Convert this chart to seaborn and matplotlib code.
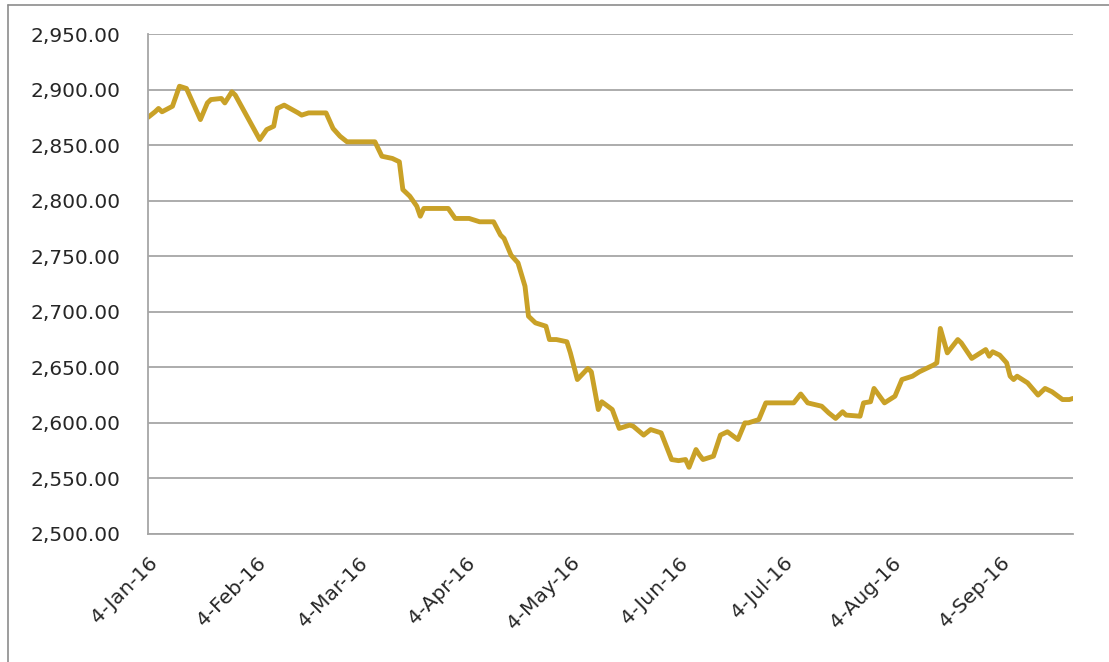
import matplotlib
matplotlib.use("Agg")
import matplotlib.pyplot as plt
import matplotlib.ticker as mticker
from matplotlib.lines import Line2D
import pandas as pd
import seaborn as sns

dates = [
    "2016-01-04", "2016-01-06", "2016-01-07", "2016-01-08", "2016-01-11",
    "2016-01-13", "2016-01-15", "2016-01-19", "2016-01-21", "2016-01-22",
    "2016-01-25", "2016-01-26", "2016-01-28", "2016-01-29", "2016-02-05",
    "2016-02-07", "2016-02-09", "2016-02-10", "2016-02-12", "2016-02-16",
    "2016-02-17", "2016-02-19", "2016-02-24", "2016-02-26", "2016-02-28",
    "2016-03-01", "2016-03-09", "2016-03-11", "2016-03-14", "2016-03-16",
    "2016-03-17", "2016-03-19", "2016-03-21", "2016-03-22", "2016-03-23",
    "2016-03-30", "2016-04-01", "2016-04-05", "2016-04-08", "2016-04-12",
    "2016-04-14", "2016-04-15", "2016-04-17", "2016-04-19", "2016-04-21",
    "2016-04-22", "2016-04-24", "2016-04-27", "2016-04-28", "2016-04-30",
    "2016-05-03", "2016-05-04", "2016-05-06", "2016-05-09", "2016-05-10",
    "2016-05-12", "2016-05-13", "2016-05-16", "2016-05-18", "2016-05-21",
    "2016-05-22", "2016-05-25", "2016-05-27", "2016-05-30", "2016-06-02",
    "2016-06-04", "2016-06-06", "2016-06-07", "2016-06-09", "2016-06-10",
    "2016-06-11", "2016-06-14", "2016-06-16", "2016-06-18", "2016-06-21",
    "2016-06-23", "2016-06-24", "2016-06-27", "2016-06-29", "2016-07-07",
    "2016-07-09", "2016-07-11", "2016-07-15", "2016-07-17", "2016-07-19",
    "2016-07-21", "2016-07-22", "2016-07-26", "2016-07-27", "2016-07-29",
    "2016-07-30", "2016-08-02", "2016-08-05", "2016-08-07", "2016-08-10",
    "2016-08-12", "2016-08-16", "2016-08-17", "2016-08-18", "2016-08-20",
    "2016-08-23", "2016-08-24", "2016-08-27", "2016-08-31", "2016-09-01",
    "2016-09-02", "2016-09-04", "2016-09-06", "2016-09-07", "2016-09-08",
    "2016-09-09", "2016-09-12", "2016-09-15", "2016-09-17", "2016-09-19",
    "2016-09-22", "2016-09-24", "2016-09-25",
]
values = [
    2875, 2880, 2883, 2880, 2885,
    2903, 2901, 2873, 2888, 2891,
    2892, 2888, 2898, 2895, 2855,
    2864, 2867, 2883, 2886, 2879,
    2877, 2879, 2879, 2865, 2858,
    2853, 2853, 2840, 2838, 2835,
    2810, 2804, 2795, 2786, 2793,
    2793, 2784, 2784, 2781, 2781,
    2769, 2766, 2751, 2744, 2723,
    2696, 2690, 2687, 2675, 2675,
    2673, 2663, 2639, 2649, 2646,
    2612, 2619, 2612, 2595, 2598,
    2597, 2589, 2594, 2591, 2567,
    2566, 2567, 2560, 2576, 2571,
    2567, 2570, 2589, 2592, 2585,
    2600, 2600, 2603, 2618, 2618,
    2626, 2618, 2615, 2609, 2604,
    2610, 2607, 2606, 2618, 2619,
    2631, 2618, 2624, 2639, 2642,
    2646, 2652, 2654, 2685, 2663,
    2675, 2672, 2658, 2666, 2660,
    2664, 2661, 2654, 2642, 2639,
    2642, 2636, 2625, 2631, 2628,
    2621, 2621, 2622,
]
tick_dates = ["2016-01-04", "2016-02-04", "2016-03-04", "2016-04-04", "2016-05-04",
              "2016-06-04", "2016-07-04", "2016-08-04", "2016-09-04"]
tick_labels = ["4-Jan-16", "4-Feb-16", "4-Mar-16", "4-Apr-16", "4-May-16",
               "4-Jun-16", "4-Jul-16", "4-Aug-16", "4-Sep-16"]
y_ticks = [2500, 2550, 2600, 2650, 2700, 2750, 2800, 2850, 2900, 2950]

df = pd.DataFrame({"date": pd.to_datetime(dates), "value": values})

sns.set_theme(style="white")
plt.rcParams["font.family"] = ["DejaVu Sans"]

fig = plt.figure(figsize=(11.09, 6.62), dpi=100)
ax = fig.add_axes([0.1335, 0.1934, 0.834, 0.7552])

line_color = "#C9A127"
sns.lineplot(data=df, x="date", y="value", ax=ax, color=line_color, linewidth=3.5)

ax.set_ylim(2500, 2950)
ax.set_yticks(y_ticks)
ax.yaxis.set_major_formatter(mticker.FuncFormatter(lambda v, p: f"{v:,.2f}"))
ax.set_xlim(pd.Timestamp("2016-01-04"), pd.Timestamp("2016-09-25"))
ax.set_xticks(pd.to_datetime(tick_dates))
ax.set_xticklabels(tick_labels, rotation=45, ha="right", rotation_mode="anchor")

ax.grid(axis="y", color="#A6A6A6", linewidth=1.3)
ax.set_axisbelow(True)
ax.set_xlabel("")
ax.set_ylabel("")

for s in ["top", "right"]:
    ax.spines[s].set_visible(False)
for s in ["left", "bottom"]:
    ax.spines[s].set_color("#A6A6A6")
    ax.spines[s].set_linewidth(1.3)

ax.tick_params(axis="both", which="major", direction="out", length=6, width=1.3,
               color="#A6A6A6", labelsize=14.5, labelcolor="#262626")
ax.tick_params(axis="y", pad=14)
ax.tick_params(axis="x", pad=8)

# outer chart frame (only left and top visible, as cropped)
fig.add_artist(Line2D([8 / 1109, 8 / 1109], [0, 1 - 5 / 662], color="#8C8C8C", linewidth=1.2))
fig.add_artist(Line2D([8 / 1109, 1], [1 - 5 / 662, 1 - 5 / 662], color="#8C8C8C", linewidth=1.2))

fig.savefig("out.png", dpi=100)
